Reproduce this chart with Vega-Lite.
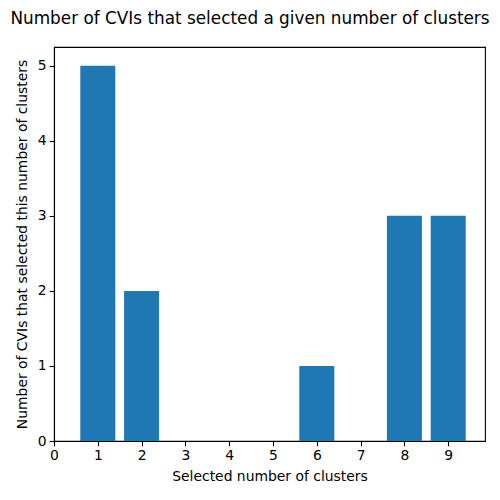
{
  "$schema": "https://vega.github.io/schema/vega-lite/v6.json",
  "width": 431,
  "height": 394,
  "autosize": {"type": "none"},
  "padding": {"left": 54, "top": 47, "right": 15, "bottom": 59},
  "background": "white",
  "title": {
    "text": "Number of CVIs that selected a given number of clusters",
    "font": "DejaVu Sans",
    "fontSize": 16.85,
    "fontWeight": "normal",
    "color": "black",
    "anchor": "middle",
    "frame": "group",
    "dx": -19.5,
    "offset": 19
  },
  "config": {
    "view": {"stroke": "black", "strokeWidth": 1.1},
    "axis": {
      "labelFont": "DejaVu Sans",
      "titleFont": "DejaVu Sans",
      "labelFontSize": 13.9,
      "titleFontSize": 13.9,
      "titleFontWeight": "normal",
      "labelColor": "black",
      "titleColor": "black",
      "domainColor": "black",
      "domainWidth": 1.1,
      "tickColor": "black",
      "tickWidth": 1.1,
      "tickSize": 4.9,
      "labelPadding": 3,
      "grid": false
    }
  },
  "data": {
    "values": [
      {"clusters": 1, "count": 5},
      {"clusters": 2, "count": 2},
      {"clusters": 3, "count": 0},
      {"clusters": 4, "count": 0},
      {"clusters": 5, "count": 0},
      {"clusters": 6, "count": 1},
      {"clusters": 7, "count": 0},
      {"clusters": 8, "count": 3},
      {"clusters": 9, "count": 3}
    ]
  },
  "mark": {"type": "bar", "size": 35, "color": "#1f77b4"},
  "encoding": {
    "x": {
      "field": "clusters",
      "type": "quantitative",
      "scale": {"domain": [0, 9.84], "nice": false, "zero": false, "padding": 0},
      "axis": {"values": [0, 1, 2, 3, 4, 5, 6, 7, 8, 9], "title": "Selected number of clusters", "titlePadding": 7, "labelFlush": false}
    },
    "y": {
      "field": "count",
      "type": "quantitative",
      "scale": {"domain": [0, 5.25], "nice": false},
      "axis": {"values": [0, 1, 2, 3, 4, 5], "title": "Number of CVIs that selected this number of clusters", "titlePadding": 8}
    }
  }
}
